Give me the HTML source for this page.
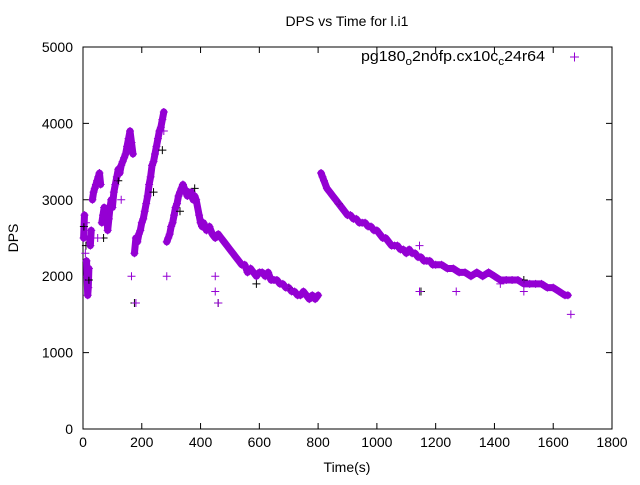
<!DOCTYPE html>
<html><head><meta charset="utf-8"><style>
body{margin:0;background:#fff;}
svg{font-family:"Liberation Sans",sans-serif;}
</style></head><body>
<svg id="c" width="640" height="480">
<text x="347" y="26" font-size="14" text-anchor="middle">DPS vs Time for l.i1</text>
<text x="347" y="472" font-size="14" text-anchor="middle">Time(s)</text>
<text transform="translate(18,238) rotate(-90)" font-size="14" text-anchor="middle">DPS</text>
<rect x="83" y="47" width="529" height="382" fill="none" stroke="#000"/>
<g id="ticks"></g>
<g id="marks"></g>
<g>
<text x="361" y="61" font-size="15" textLength="184" lengthAdjust="spacingAndGlyphs">pg180<tspan font-size="11" dy="4">o</tspan><tspan dy="-4">2nofp.cx10c</tspan><tspan font-size="11" dy="4">c</tspan><tspan dy="-4">24r64</tspan></text>
<path d="M570,57h9M574.5,52.5v9" stroke="#9400d3"/>
</g>
</svg>
<script>
const xTicks=[0,200,400,600,800,1000,1200,1400,1600,1800];
const yTicks=[0,1000,2000,3000,4000,5000];
const times=[2,5,8,10,12,14,16,18,20,22,25,28,32,36,40,44,48,52,56,60,64,68,72,76,80,84,88,92,96,100,105,110,115,120,125,130,135,140,145,150,155,160,165,170,175,180,185,190,195,200,205,210,215,220,225,230,235,240,245,250,255,260,265,270,275,285,290,295,300,305,310,315,320,325,330,335,340,345,350,355,360,365,370,375,380,385,395,400,405,410,420,430,440,450,460,470,480,490,500,510,520,530,540,550,560,570,580,590,600,610,620,630,640,650,660,670,680,690,700,710,720,730,740,750,760,770,780,790,800,810,815,820,830,840,850,860,870,880,890,900,910,920,930,940,950,960,970,980,990,1000,1010,1020,1030,1040,1050,1060,1070,1080,1090,1100,1110,1120,1130,1140,1150,1160,1170,1180,1190,1200,1220,1240,1260,1280,1300,1320,1340,1360,1380,1400,1420,1440,1460,1480,1500,1520,1540,1560,1580,1600,1620,1640,1650];
const dps=[2500,2800,2300,2700,2200,2000,1750,1850,2100,2500,2400,2600,3000,3100,3150,3200,3250,3300,3350,3200,2700,2800,2900,2700,2850,2600,2750,2900,3000,2900,3100,3200,3300,3400,3350,3450,3500,3550,3600,3700,3800,3900,3750,3600,2300,2500,2450,2550,2600,2700,2750,2850,2950,3050,3200,3300,3450,3500,3600,3700,3800,3900,3950,4050,4150,2450,2500,2550,2650,2700,2800,2900,2950,3050,3100,3150,3200,3150,3100,3050,3100,3050,3100,3000,3050,3000,2800,2700,2650,2700,2600,2650,2550,2500,2550,2500,2450,2400,2350,2300,2250,2200,2150,2150,2050,2100,2050,2000,2050,2050,2000,2050,1950,1950,1950,1900,1900,1850,1850,1800,1800,1750,1750,1800,1750,1700,1750,1700,1750,3350,3300,3250,3150,3100,3050,3000,2950,2900,2850,2800,2800,2750,2750,2700,2700,2700,2650,2650,2600,2600,2550,2500,2500,2450,2400,2400,2400,2350,2350,2300,2350,2300,2300,2250,2250,2200,2200,2200,2150,2150,2150,2100,2100,2050,2050,2000,2050,2000,2050,2000,1950,1950,1950,1950,1900,1900,1900,1900,1850,1850,1800,1750,1750];
const outTimes=[165,180,285,450,460,450,1145,1145,1270,1420,1500,1660,50,130,275];
const outDps=[2000,1650,2000,1800,1650,2000,1800,2400,1800,1900,1800,1500,2500,3000,3900];
const blackTimes=[3,10,20,70,120,175,240,270,330,380,460,590,700,870,1150,1500];
const blackDps=[2650,2400,1950,2500,3250,1650,3100,3650,2850,3150,1650,1900,1850,2950,1800,1950];
const X=v=>83+v/1800*529, Y=v=>429-v/5000*382;
const NS='http://www.w3.org/2000/svg';
const tg=document.getElementById('ticks'), mg=document.getElementById('marks');
function mk(tag,attrs,parent){const e=document.createElementNS(NS,tag);for(const k in attrs)e.setAttribute(k,attrs[k]);parent.appendChild(e);return e;}
xTicks.forEach(t=>{const x=X(t);
 const p=mk('path',{d:`M${x},429v-6M${x},47v6`,stroke:'#000'},tg);
 
 
 const l=mk('text',{x:x,y:447,'font-size':14,'text-anchor':'middle'},tg);l.textContent=t;
 
 });
yTicks.forEach(t=>{const y=Y(t);
 const p=mk('path',{d:`M83,${y}h6M612,${y}h-6`,stroke:'#000'},tg);
 
 
 const l=mk('text',{x:73,y:y+5,'font-size':14,'text-anchor':'end'},tg);l.textContent=t;
 
 });
function plus(t,v,col,name){const x=X(t),y=Y(v);
 const p=mk('path',{d:`M${x-4},${y}h8M${x},${y-4}v8`,stroke:col,'stroke-width':1},mg);
 
 }
let seg=[];const segs=[];
for(let i=0;i<times.length;i++){
 if(i>0&&(Math.abs(dps[i]-dps[i-1])>350||times[i]-times[i-1]>25)){segs.push(seg);seg=[];}
 seg.push(X(times[i])+','+Y(dps[i]));}
segs.push(seg);
segs.forEach(s=>{if(s.length<2)return;
 const pl=mk('polyline',{points:s.join(' '),fill:'none',stroke:'#9400d3','stroke-width':7,'stroke-linejoin':'round','stroke-linecap':'round'},mg);
 
 });
blackTimes.forEach((t,i)=>plus(t,blackDps[i],'#000','black-point'));
times.forEach((t,i)=>plus(t,dps[i],'#9400d3','dps-point'));
outTimes.forEach((t,i)=>plus(t,outDps[i],'#9400d3','dps-outlier'));
</script>
</body></html>
